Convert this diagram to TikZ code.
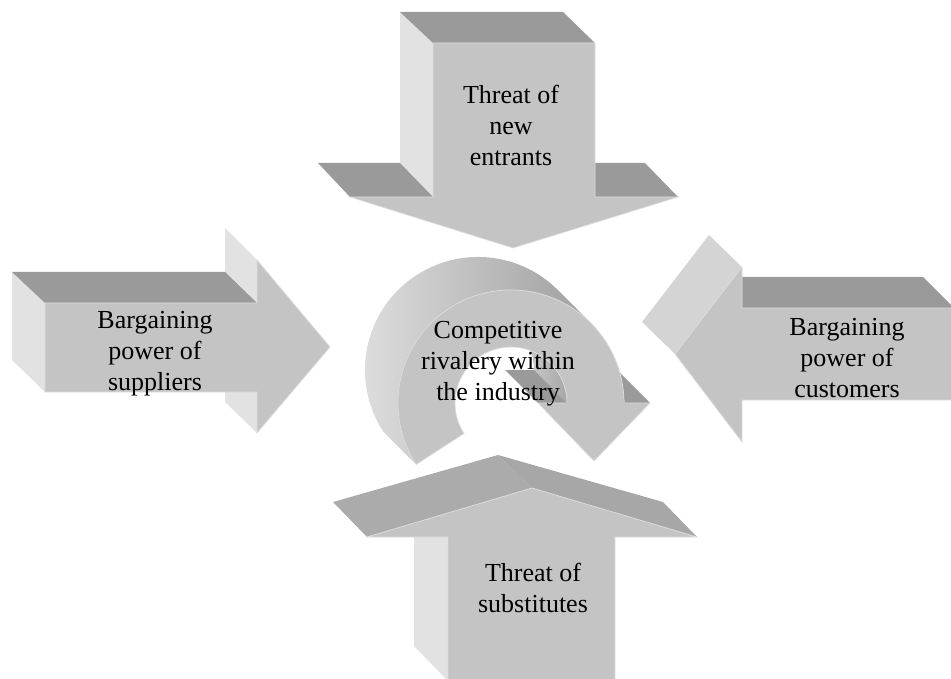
\documentclass[tikz,border=0pt]{standalone}
\usepackage{fontspec}
\setmainfont{Liberation Serif}
\begin{document}
\begin{tikzpicture}[x=1pt,y=-1pt]
% face shades of the extruded arrows
\definecolor{facefront}{HTML}{C4C4C4}
\definecolor{facetop}{HTML}{9A9A9A}
\definecolor{faceside}{HTML}{E2E2E2}
\definecolor{facebevel}{HTML}{D4D4D4}
\definecolor{roofleft}{HTML}{ABABAB}
\definecolor{roofright}{HTML}{A7A7A7}
\definecolor{edgelight}{HTML}{DDDDDD}
\tikzset{
  frontface/.style={fill=facefront, draw=edgelight, line width=0.7pt, line join=miter},
  topface/.style={fill=facetop},
  sideface/.style={fill=faceside},
  bigtext/.style={align=center, font=\fontsize{26}{31}\selectfont, inner sep=0pt, text=black},
}
\clip (0,0) rectangle (951,679);
\useasboundingbox (0,0) rectangle (951,679);

% ---- threat of new entrants (pointing down) ----
\fill[sideface] (400,12) -- (433,43) -- (433,197) -- (400,163) -- cycle;
\fill[topface] (400,12) -- (563,12) -- (595,43) -- (433,43) -- cycle;
\fill[topface] (318,163) -- (400,163) -- (433,197) -- (350,197) -- cycle;
\fill[topface] (562,163) -- (645,163) -- (678,197) -- (595,197) -- cycle;
\path[frontface] (433,43) -- (595,43) -- (595,197) -- (678,197) -- (513,248)
  -- (350,197) -- (433,197) -- cycle;

% ---- bargaining power of suppliers (pointing right) ----
\fill[sideface] (225,228) -- (257,260) -- (257,433) -- (225,402) -- cycle;
\fill[sideface] (12,272) -- (45,303) -- (45,392) -- (12,360) -- cycle;
\fill[topface] (12,272) -- (225,272) -- (257,303) -- (45,303) -- cycle;
\path[frontface] (45,303) -- (257,303) -- (257,260) -- (330,347) -- (257,433)
  -- (257,392) -- (45,392) -- cycle;

% ---- bargaining power of customers (pointing left) ----
\fill[topface] (742,277) -- (923,277) -- (954,308) -- (742,308) -- cycle;
\fill[facebevel] (709,235) -- (742,267) -- (675,354) -- (642,322) -- cycle;
\path[frontface] (742,267) -- (742,308) -- (956,308) -- (956,400) -- (742,400)
  -- (742,442) -- (675,354) -- cycle;

% ---- threat of substitutes (pointing up) ----
\fill[sideface] (414,537) -- (448,537) -- (448,681) -- (414,646) -- cycle;
\fill[roofleft] (333,502) -- (498,455) -- (532,488) -- (367,537) -- cycle;
\fill[roofright] (498,455) -- (663,502) -- (697,537) -- (532,488) -- cycle;
\path[frontface] (448,681) -- (448,537) -- (367,537) -- (532,488) -- (697,537)
  -- (615,537) -- (615,681) -- cycle;

% ---- competitive rivalry: extruded circular arrow ----
% outer side wall, seen from 45 to 213 degrees
\path[left color=faceside!105!white, right color=facetop!95!white]
  (590.9,323.1) arc[start angle=-45, end angle=-213, radius=113]
  -- (383.2,431.5) arc[start angle=-213, end angle=-45, radius=113] -- cycle;
% inner side wall of the hole
\path[left color=facebevel, right color=facefront!85!black]
  (567,403) arc[start angle=0, end angle=-45, radius=56]
  -- (517.6,330.4) arc[start angle=-45, end angle=0, radius=56] -- cycle;
% base faces of the arrowhead wings
\fill[facetop] (538,403) -- (567,403) -- (534,370) -- (505,370) -- cycle;
\fill[facetop] (624,403) -- (650,403) -- (617,370) -- (591,370) -- cycle;
% front of ring and head
\path[frontface] (416.2,464.5) arc[start angle=-213, end angle=0, radius=113]
  -- (567,403) arc[start angle=0, end angle=-213, radius=56] -- cycle;
\path[frontface] (538,403) -- (650,403) -- (594,461) -- cycle;
\fill[facefront] (566,400) rectangle (625,406);

% ---- labels ----
\node[bigtext] (entrants) at (511,125) {Threat of\\new\\entrants};
\node[bigtext] (suppliers) at (155,354) {Bargaining\\power of\\suppliers};
\node[bigtext] (customers) at (847,358) {Bargaining\\power of\\customers};
\node[bigtext] (rivalry) at (498,364) {Competitive\\rivalery within\\the industry};
\node[bigtext] (substitutes) at (533,588) {Threat of\\substitutes};
\end{tikzpicture}
\end{document}
